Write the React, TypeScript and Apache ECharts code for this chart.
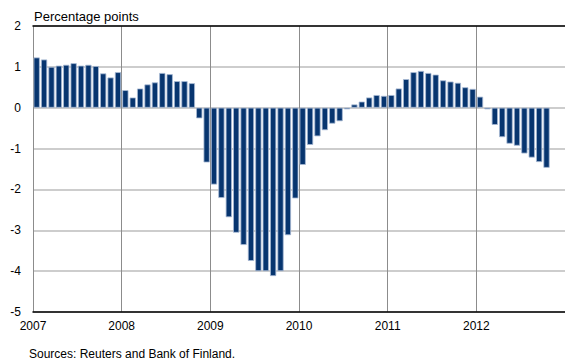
import React, { useEffect, useRef } from "react";
import * as echarts from "echarts";

const years = [2007, 2008, 2009, 2010, 2011, 2012];
const months = ["01", "02", "03", "04", "05", "06", "07", "08", "09", "10", "11", "12"];
const categories: string[] = years.flatMap((y) => months.map((m) => `${y}-${m}`));

const values2007 = [1.23, 1.18, 1.0, 1.03, 1.05, 1.09, 1.03, 1.05, 1.02, 0.84, 0.74, 0.87];
const values2008 = [0.43, 0.25, 0.47, 0.57, 0.62, 0.85, 0.82, 0.65, 0.65, 0.6, -0.26, -1.34];
const values2009 = [-1.88, -2.21, -2.68, -3.06, -3.36, -3.75, -4.0, -4.0, -4.12, -4.0, -3.12, -2.22];
const values2010 = [-1.4, -0.91, -0.7, -0.55, -0.39, -0.33, -0.04, 0.08, 0.15, 0.25, 0.31, 0.29];
const values2011 = [0.31, 0.47, 0.7, 0.87, 0.9, 0.85, 0.81, 0.67, 0.64, 0.61, 0.5, 0.46];
const values2012 = [0.27, -0.04, -0.42, -0.72, -0.88, -0.93, -1.12, -1.22, -1.33, -1.47, null, null];

const seriesValues = [
  ...values2007,
  ...values2008,
  ...values2009,
  ...values2010,
  ...values2011,
  ...values2012,
];

const yTicks = { min: -5, max: 2, interval: 1 };
const titleText = "Percentage points";
const sourceText = "Sources: Reuters and Bank of Finland.";

const FONT = "'Liberation Sans', Arial, sans-serif";

export default function App() {
  const ref = useRef<HTMLDivElement>(null);
  useEffect(() => {
    document.body.style.margin = "0";
    if (!ref.current) return;
    const chart = echarts.init(ref.current, null, { renderer: "svg" });
    chart.setOption({
      animation: false,
      textStyle: { fontFamily: FONT },
      grid: { left: 33, right: 0, top: 26, bottom: 51, containLabel: false },
      xAxis: [
        {
          type: "category",
          data: categories,
          boundaryGap: true,
          axisLine: { show: true, onZero: false, lineStyle: { color: "#000", width: 1.5 } },
          axisTick: { show: false },
          axisLabel: { show: false },
          splitLine: { show: false },
          z: 5,
        },
        {
          type: "value",
          min: 0,
          max: categories.length,
          interval: 12,
          position: "bottom",
          axisLine: { show: false, onZero: false },
          axisTick: { show: false },
          axisLabel: {
            show: true,
            color: "#000",
            fontSize: 12,
            fontFamily: FONT,
            margin: 8,
            showMaxLabel: false,
            formatter: (v: number) => (v >= categories.length ? "" : String(years[0] + v / 12)),
          },
          splitLine: { show: true, lineStyle: { color: "#8c8c8c", width: 1 } },
        },
        {
          type: "value",
          min: 0,
          max: categories.length,
          position: "top",
          axisLine: { show: true, onZero: false, lineStyle: { color: "#000", width: 1.5 } },
          axisTick: { show: false },
          axisLabel: { show: false },
          splitLine: { show: false },
        },
      ],
      yAxis: {
        type: "value",
        min: yTicks.min,
        max: yTicks.max,
        interval: yTicks.interval,
        axisLine: { show: false },
        axisTick: { show: false },
        axisLabel: { color: "#000", fontSize: 12, fontFamily: FONT, margin: 12 },
        splitLine: { show: true, lineStyle: { color: "#bdbdbd", width: 1.5 } },
      },
      series: [
        {
          type: "bar",
          xAxisIndex: 0,
          data: seriesValues,
          barCategoryGap: "16%",
          itemStyle: { color: "#07356f", borderColor: "#a8bad4", borderWidth: 0.8 },
          z: 3,
        },
      ],
      graphic: [
        {
          type: "text",
          left: 34,
          top: 10,
          style: { text: titleText, fill: "#000", font: `13px ${FONT}` },
        },
        {
          type: "text",
          left: 29,
          top: 348,
          style: { text: sourceText, fill: "#000", font: `12px ${FONT}` },
        },
      ],
    });
    return () => chart.dispose();
  }, []);
  return <div ref={ref} style={{ width: 565, height: 363 }} />;
}
